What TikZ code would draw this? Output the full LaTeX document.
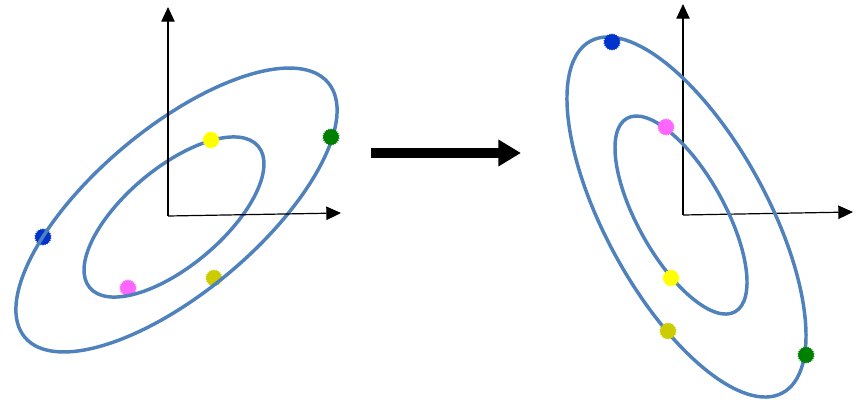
\documentclass[tikz,border=0pt]{standalone}
\usetikzlibrary{arrows.meta,shapes.geometric}
\definecolor{ellblue}{RGB}{79,129,189}
\definecolor{dotblue}{RGB}{0,51,204}
\definecolor{dotgreen}{RGB}{0,128,0}
\definecolor{dotyellow}{RGB}{255,255,0}
\definecolor{dotpink}{RGB}{255,102,255}
\definecolor{dotolive}{RGB}{204,204,0}
\tikzset{
  axis/.style={line width=0.9pt,-{Triangle[length=11pt,width=10pt]}},
  ell/.style={draw=ellblue,line width=2.6pt},
  dot/.style={star,star points=22,star point ratio=1.18,minimum size=13pt,inner sep=0pt,fill=#1,draw=none},
  bigarrow/.style={line width=6.8pt,-{Triangle[length=17pt,width=19pt]}}
}
\begin{document}
\begin{tikzpicture}[x=0.75pt,y=-0.75pt]
\path[use as bounding box] (0,0) rectangle (861,400);
% ---------- left panel ----------
\coordinate (Lo) at (168,216);
\coordinate (Lx) at (341,213);
\coordinate (Ly) at (168,7);
\coordinate (Lc) at (176.5,210);
\coordinate (Lci) at (174,217);
\node[dot=dotblue] (lb) at (43,237) {};
\node[dot=dotpink] (lp) at (128,288) {};
\node[dot=dotolive] (lo) at (214,278) {};
\draw[ell,rotate around={40:(Lc)}] (Lc) ellipse (198 and 82);
\draw[ell,rotate around={40:(Lci)}] (Lci) ellipse (110 and 49);
\node[dot=dotgreen] (lg) at (331,137) {};
\node[dot=dotyellow] (ly) at (211,140) {};
\draw[axis] (Lo) -- (Ly);
\draw[axis] (Lo) -- (Lx);
% ---------- arrow ----------
\coordinate (As) at (371,153);
\coordinate (Ae) at (521,153);
\draw[bigarrow] (As) -- (Ae);
% ---------- right panel ----------
\coordinate (Ro) at (683,215);
\coordinate (Rx) at (853,212);
\coordinate (Ry) at (683,4);
\coordinate (Rc) at (686.5,217);
\coordinate (Rci) at (681,215);
\draw[axis] (Ro) -- (Ry);
\draw[axis] (Ro) -- (Rx);
\draw[ell,rotate around={118.7:(Rc)}] (Rc) ellipse (200.4 and 80.8);
\draw[ell,rotate around={119.2:(Rci)}] (Rci) ellipse (110.8 and 43.4);
\node[dot=dotolive] (ro) at (668,331) {};
\node[dot=dotpink] (rp) at (666,127) {};
\node[dot=dotblue] (rb) at (612,42) {};
\node[dot=dotyellow] (ry) at (671,278) {};
\node[dot=dotgreen] (rg) at (806,355) {};
\end{tikzpicture}
\end{document}
